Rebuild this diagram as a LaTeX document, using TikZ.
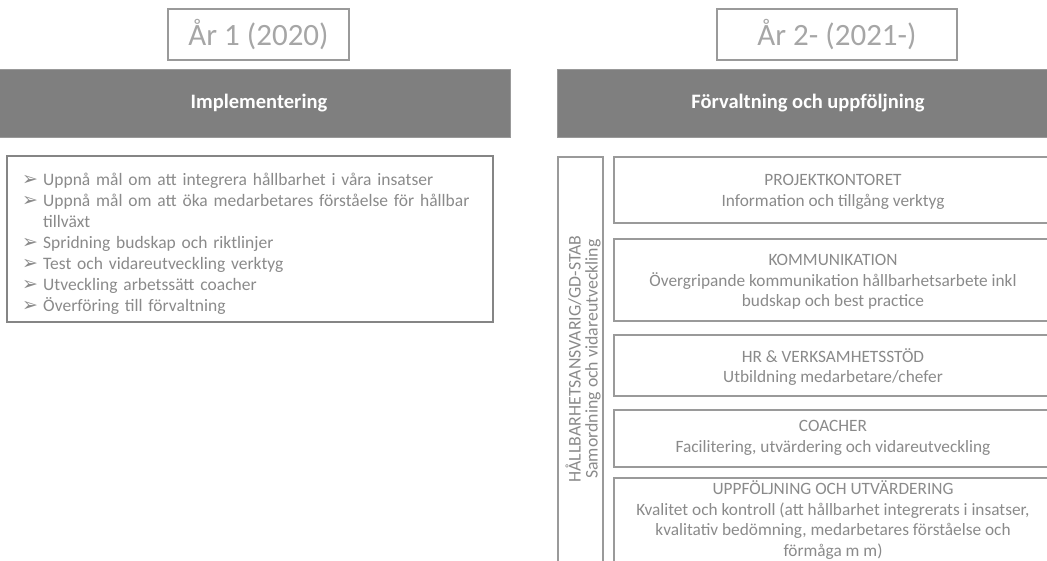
\documentclass[tikz,border=0pt]{standalone}
\usepackage{fontspec}
\setmainfont{Carlito}
\newfontfamily\symfont{DejaVu Sans}
\definecolor{barfill}{HTML}{7F7F7F}
\definecolor{txtgray}{HTML}{8A8A8A}
\definecolor{yeargray}{HTML}{A6A6A6}
\definecolor{edgegray}{HTML}{9A9A9A}
\definecolor{listedge}{HTML}{858585}
\newcommand{\arrowbullet}{\makebox[21pt][l]{\raisebox{-0.5pt}{\symfont\fontsize{19}{19}\selectfont ➢}}}
\newcommand{\listitem}[1]{\par\hangindent=21pt\hangafter=1\noindent\arrowbullet#1}
\begin{document}
\begin{tikzpicture}[x=1pt,y=-1pt,
  yearbox/.style={draw=edgegray,line width=1.2pt},
  yeartext/.style={text=yeargray,font=\fontsize{31}{34}\selectfont},
  headbar/.style={fill=barfill,draw=barfill!80!white,line width=0.8pt},
  headtext/.style={text=white,font=\bfseries\fontsize{20.5}{24}\selectfont},
  unitbox/.style={draw=edgegray,line width=1.4pt},
  unittext/.style={text=txtgray,align=center,font=\fontsize{17.3}{20.7}\selectfont}]
\useasboundingbox (0,0) rectangle (1047,561);
\clip (0,0) rectangle (1047,561);

% year labels
\draw[yearbox] (168,9) rectangle (349,60);
\node[yeartext] (y1) at (258.5,35) {År 1 (2020)};
\draw[yearbox] (717,9) rectangle (957,60);
\node[yeartext] (y2) at (837,35) {År 2- (2021-)};

% phase headers
\draw[headbar] (-2,69) rectangle (510,137);
\node[headtext] (h1) at (259,103) {Implementering};
\draw[headbar] (557,69) rectangle (1060,137);
\node[headtext] (h2) at (808,103) {Förvaltning och uppföljning};

% implementation list
\draw[draw=listedge,line width=1.3pt] (7,156) rectangle (493,322);
\node[anchor=north west,text=txtgray,text width=455pt,inner sep=0pt,
      font=\fontsize{17.5}{21}\selectfont] (list) at (22,164) {%
  \listitem{Uppnå mål om att integrera hållbarhet i våra insatser}
  \listitem{Uppnå mål om att öka medarbetares förståelse för hållbar tillväxt}
  \listitem{Spridning budskap och riktlinjer}
  \listitem{Test och vidareutveckling verktyg}
  \listitem{Utveckling arbetssätt coacher}
  \listitem{Överföring till förvaltning}\par};

% coordinating role, vertical
\draw[unitbox] (558,157) rectangle (603,580);
\node[text=txtgray,align=center,font=\fontsize{17.8}{17}\selectfont,rotate=90] (coord) at (583,359) {HÅLLBARHETSANSVARIG/GD-STAB\\Samordning och vidareutveckling};

% units
\draw[unitbox] (614,157) rectangle (1052,223);
\node[unittext] (u1) at (833,192) {PROJEKTKONTORET\\Information och tillgång verktyg};
\draw[unitbox] (614,239) rectangle (1052,321);
\node[unittext] (u2) at (833,282) {KOMMUNIKATION\\Övergripande kommunikation hållbarhetsarbete inkl\\budskap och best practice};
\draw[unitbox] (614,335) rectangle (1052,396);
\node[unittext] (u3) at (833,367) {HR \& VERKSAMHETSSTÖD\\Utbildning medarbetare/chefer};
\draw[unitbox] (614,410) rectangle (1052,467);
\node[unittext] (u4) at (833,438) {COACHER\\Facilitering, utvärdering och vidareutveckling};
\draw[unitbox] (614,478) rectangle (1052,590);
\node[unittext] (u5) at (833,520) {UPPFÖLJNING OCH UTVÄRDERING\\Kvalitet och kontroll (att hållbarhet integrerats i insatser,\\kvalitativ bedömning, medarbetares förståelse och\\förmåga m m)};
\end{tikzpicture}
\end{document}
